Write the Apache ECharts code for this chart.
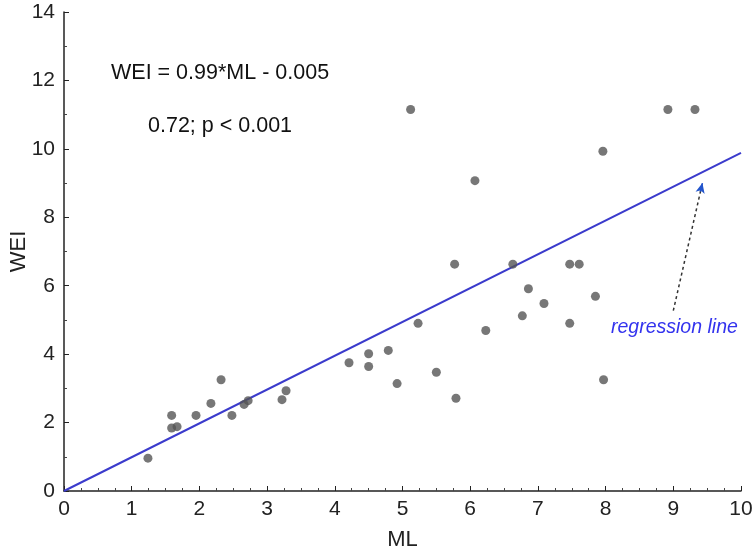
<!DOCTYPE html>
<html>
<head>
<meta charset="utf-8">
<script src="https://cdn.jsdelivr.net/npm/echarts@6/dist/echarts.min.js"></script>
<style>
  html, body { margin: 0; padding: 0; background: #fff; }
  #chart { width: 755px; height: 553px; }
</style>
</head>
<body>
<div id="chart"></div>
<script>
const FONT = '"Liberation Sans", Arial, sans-serif';

// observed ML values
const ML = [1.24, 1.59, 1.59, 1.67, 1.95, 2.17, 2.32, 2.48, 2.66, 2.72, 3.22, 3.28,
    4.21, 4.50, 4.50, 4.79, 4.92, 5.12, 5.23, 5.50, 5.77, 5.79, 6.07, 6.23, 6.63,
    6.77, 6.86, 7.09, 7.47, 7.47, 7.61, 7.85, 7.96, 7.97, 8.92, 9.32];
// observed WEI values
const WEI = [0.96, 2.21, 1.84, 1.88, 2.21, 2.56, 3.25, 2.21, 2.53, 2.64, 2.67, 2.93,
    3.75, 4.01, 3.64, 4.11, 3.14, 11.15, 4.90, 3.47, 6.63, 2.71, 9.07, 4.69, 6.63,
    5.12, 5.91, 5.48, 6.63, 4.90, 6.63, 5.69, 9.93, 3.25, 11.15, 11.15];

// regression line end points (WEI = 0.99*ML - 0.005)
const REG_LINE = [[0, 0], [10, 9.885]];
// annotation arrow, from text to the line
const ARROW = [[9.0, 5.27], [9.43, 9.0]];

const X_TICKS = [0, 1, 2, 3, 4, 5, 6, 7, 8, 9, 10];
const Y_TICKS = [0, 2, 4, 6, 8, 10, 12, 14];

const chart = echarts.init(document.getElementById('chart'), null, { renderer: 'canvas' });

const axisCommon = {
    type: 'value',
    axisLine: { show: true, lineStyle: { color: '#222', width: 1.5 } },
    axisTick: { show: true, inside: true, length: 5, lineStyle: { color: '#222' } },
    minorTick: { show: true, length: 3, lineStyle: { color: '#444' } },
    splitLine: { show: false },
    axisLabel: { fontSize: 21, color: '#222', fontFamily: FONT },
    nameLocation: 'middle',
    nameMoveOverlap: false,
    nameTextStyle: { fontSize: 22, color: '#222', fontFamily: FONT },
};

chart.setOption({
    animation: false,
    grid: { left: 64, right: 14, top: 12, bottom: 62, containLabel: false, outerBoundsMode: 'none' },
    xAxis: {
        ...axisCommon,
        min: X_TICKS[0], max: X_TICKS[X_TICKS.length - 1], interval: 1,
        name: 'ML', nameGap: 38,
        minorTick: { ...axisCommon.minorTick, splitNumber: 4 },
        axisLabel: { ...axisCommon.axisLabel, margin: 8 },
    },
    yAxis: {
        ...axisCommon,
        min: Y_TICKS[0], max: Y_TICKS[Y_TICKS.length - 1], interval: 2,
        name: 'WEI', nameGap: 34,
        minorTick: { ...axisCommon.minorTick, splitNumber: 2 },
        axisLabel: { ...axisCommon.axisLabel, margin: 9 },
    },
    series: [
        {
            type: 'line',
            data: REG_LINE,
            symbol: 'none',
            lineStyle: { color: '#3b3bcc', width: 2 },
            z: 2,
        },
        {
            type: 'scatter',
            data: ML.map((x, i) => [x, WEI[i]]),
            symbolSize: 9,
            itemStyle: { color: '#555555' },
            z: 3,
        },
        {
            type: 'line',
            data: ARROW,
            symbol: 'none',
            lineStyle: { color: '#333', width: 1.5, type: [3, 3] },
            markLine: {
                silent: true,
                symbol: ['none', 'arrow'],
                symbolSize: [7, 10],
                label: { show: false },
                lineStyle: { color: '#2255cc', width: 1.5, type: 'solid' },
                data: [[{ coord: [9.4, 8.75] }, { coord: ARROW[1] }]],
            },
            z: 4,
        },
    ],
    graphic: [
        {
            type: 'text', left: 111, top: 62,
            style: { text: 'WEI = 0.99*ML - 0.005', fontSize: 21.5, fill: '#111', fontFamily: FONT },
        },
        {
            type: 'text', left: 148, top: 115,
            style: { text: '0.72; p < 0.001', fontSize: 21.5, fill: '#111', fontFamily: FONT },
        },
        {
            type: 'text', left: 611, top: 318,
            style: { text: 'regression line', fontSize: 19.5, fontStyle: 'italic', fill: '#3333ee', fontFamily: FONT },
        },
    ],
});
</script>
</body>
</html>
